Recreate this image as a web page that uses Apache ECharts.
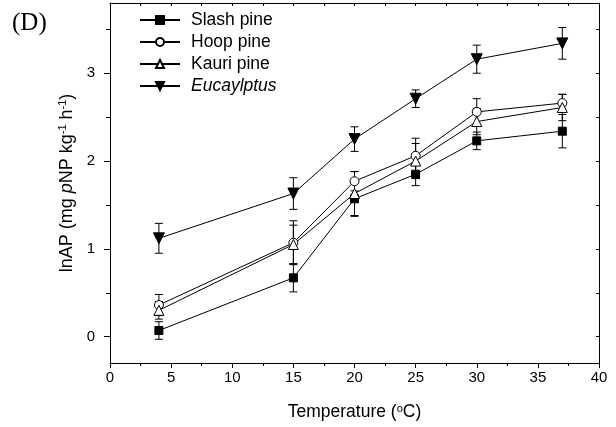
<!DOCTYPE html>
<html>
<head>
<meta charset="utf-8">
<script src="https://cdn.jsdelivr.net/npm/echarts@6/dist/echarts.min.js"></script>
<style>html,body{margin:0;padding:0;background:#fff}#c{width:616px;height:427px}</style>
</head>
<body>
<div id="c"></div>
<script>
var temps = [4, 15, 20, 25, 30, 37];
var slash = [0.07, 0.67, 1.57, 1.85, 2.23, 2.34];
var slashErr = [0.10, 0.16, 0.20, 0.13, 0.10, 0.19];
var hoop = [0.36, 1.07, 1.77, 2.06, 2.56, 2.66];
var hoopErr = [0.12, 0.25, 0.11, 0.20, 0.15, 0.10];
var kauri = [0.30, 1.05, 1.63, 2.00, 2.45, 2.61];
var kauriErr = [0.10, 0.22, 0.25, 0.20, 0.15, 0.15];
var euc = [1.12, 1.63, 2.25, 2.71, 3.16, 3.34];
var eucErr = [0.17, 0.18, 0.14, 0.10, 0.16, 0.18];
var names = ['Slash pine', 'Hoop pine', 'Kauri pine', 'Eucaylptus'];
var xTicks = [0, 5, 10, 15, 20, 25, 30, 35, 40];
var yTicks = [0, 1, 2, 3];

function pts(v) { return temps.map(function (t, i) { return [t, v[i]]; }); }
function errs(v, e) { return temps.map(function (t, i) { return [t, v[i] - e[i], v[i] + e[i]]; }); }
function halfSteps(a, b, s) { var r = []; for (var x = a; x <= b + 1e-9; x += s) r.push(+x.toFixed(2)); return r; }

function errSeries(v, e) {
  return {
    type: 'custom',
    data: errs(v, e),
    z: 1,
    silent: true,
    renderItem: function (params, api) {
      var x = api.value(0);
      var lo = api.coord([x, api.value(1)]);
      var hi = api.coord([x, api.value(2)]);
      var w = 4;
      var st = { stroke: '#000', lineWidth: 1 };
      return {
        type: 'group',
        children: [
          { type: 'line', shape: { x1: lo[0], y1: lo[1], x2: hi[0], y2: hi[1] }, style: st },
          { type: 'line', shape: { x1: lo[0] - w, y1: lo[1], x2: lo[0] + w, y2: lo[1] }, style: st },
          { type: 'line', shape: { x1: hi[0] - w, y1: hi[1], x2: hi[0] + w, y2: hi[1] }, style: st }
        ]
      };
    }
  };
}

function lineSeries(name, v, symbol, size, fill, rot) {
  return {
    name: name, type: 'line', data: pts(v), symbol: symbol, symbolSize: size,
    symbolRotate: rot || 0, showAllSymbol: true, z: 3,
    lineStyle: { color: '#000', width: 1 },
    itemStyle: { color: fill, borderColor: '#000', borderWidth: 1 },
    emphasis: { disabled: true }
  };
}

var chart = echarts.init(document.getElementById('c'));
var ff = 'Liberation Sans, Arial, sans-serif';
var lineSt = { color: '#000', width: 1 };
chart.setOption({
  animation: false,
  backgroundColor: '#fff',
  graphic: [{ type: 'text', left: 12, top: 11, style: { text: '(D)', font: '25px "Liberation Serif", "Times New Roman", serif', fill: '#000' } }],
  grid: { left: 110, right: 17, top: 3, bottom: 64 },
  legend: {
    orient: 'vertical', left: 134, top: 6, itemGap: 4, itemWidth: 40, itemHeight: 10,
    data: names,
    textStyle: { fontFamily: ff, fontSize: 17.5, color: '#000', padding: [0, 0, 0, 6],
      rich: { i: { fontStyle: 'italic', fontFamily: ff, fontSize: 17.5, color: '#000' } } },
    formatter: function (n) { return n === 'Eucaylptus' ? '{i|' + n + '}' : n; }
  },
  xAxis: [{
    type: 'value', min: 0, max: 40, position: 'bottom',
    name: 'Temperature ({s|o}C)', nameLocation: 'middle', nameGap: 40,
    nameTextStyle: { fontFamily: ff, fontSize: 17.5, color: '#000',
      rich: { s: { fontSize: 11, verticalAlign: 'top', fontFamily: ff, color: '#000', padding: [0, 0, 7, 0] } } },
    axisLine: { show: true, onZero: false, lineStyle: lineSt },
    axisTick: { show: true, length: 5, customValues: xTicks, lineStyle: { color: '#000' } },
    axisLabel: { customValues: xTicks, fontFamily: ff, fontSize: 15, color: '#000', margin: 7 },
    splitLine: { show: false }
  }, {
    type: 'value', min: 0, max: 40, position: 'bottom',
    axisLine: { show: false, onZero: false },
    axisTick: { show: true, length: 3, customValues: halfSteps(2.5, 37.5, 5), lineStyle: { color: '#000' } },
    axisLabel: { show: false }, splitLine: { show: false }
  }, {
    type: 'value', min: 0, max: 40, position: 'top',
    axisLine: { show: true, onZero: false, lineStyle: lineSt },
    axisTick: { show: true, inside: true, length: 3, customValues: halfSteps(0, 40, 2.5), lineStyle: { color: '#000' } },
    axisLabel: { show: false }, splitLine: { show: false }
  }],
  yAxis: [{
    type: 'value', min: -0.3, max: 3.8, position: 'left',
    name: '{n|lnAP (mg }{i|p}{n|NP kg}{s|-1}{n| h}{s|-1}{n|)}', nameLocation: 'middle', nameGap: 32,
    nameTextStyle: { fontFamily: ff, fontSize: 18, color: '#000',
      rich: {
        n: { fontFamily: ff, fontSize: 18, color: '#000' },
        i: { fontFamily: ff, fontSize: 18, fontStyle: 'italic', color: '#000' },
        s: { fontFamily: ff, fontSize: 11, color: '#000', verticalAlign: 'top', padding: [0, 0, 7, 0] }
      } },
    axisLine: { show: true, onZero: false, lineStyle: lineSt },
    axisTick: { show: true, length: 6, customValues: yTicks, lineStyle: { color: '#000' } },
    axisLabel: { customValues: yTicks, fontFamily: ff, fontSize: 15, color: '#000', margin: 15 },
    splitLine: { show: false }
  }, {
    type: 'value', min: -0.3, max: 3.8, position: 'left',
    axisLine: { show: false, onZero: false },
    axisTick: { show: true, length: 4, customValues: [0.5, 1.5, 2.5, 3.5], lineStyle: { color: '#000' } },
    axisLabel: { show: false }, splitLine: { show: false }
  }, {
    type: 'value', min: -0.3, max: 3.8, position: 'right',
    axisLine: { show: true, onZero: false, lineStyle: lineSt },
    axisTick: { show: true, inside: true, length: 3, customValues: halfSteps(0, 3.5, 0.5), lineStyle: { color: '#000' } },
    axisLabel: { show: false }, splitLine: { show: false }
  }],
  series: [
    errSeries(slash, slashErr), errSeries(hoop, hoopErr), errSeries(kauri, kauriErr), errSeries(euc, eucErr),
    lineSeries('Slash pine', slash, 'rect', 8, '#000'),
    lineSeries('Hoop pine', hoop, 'circle', 9, '#fff'),
    lineSeries('Kauri pine', kauri, 'triangle', 10, '#fff'),
    lineSeries('Eucaylptus', euc, 'triangle', 11, '#000', 180)
  ]
});
</script>
</body>
</html>
